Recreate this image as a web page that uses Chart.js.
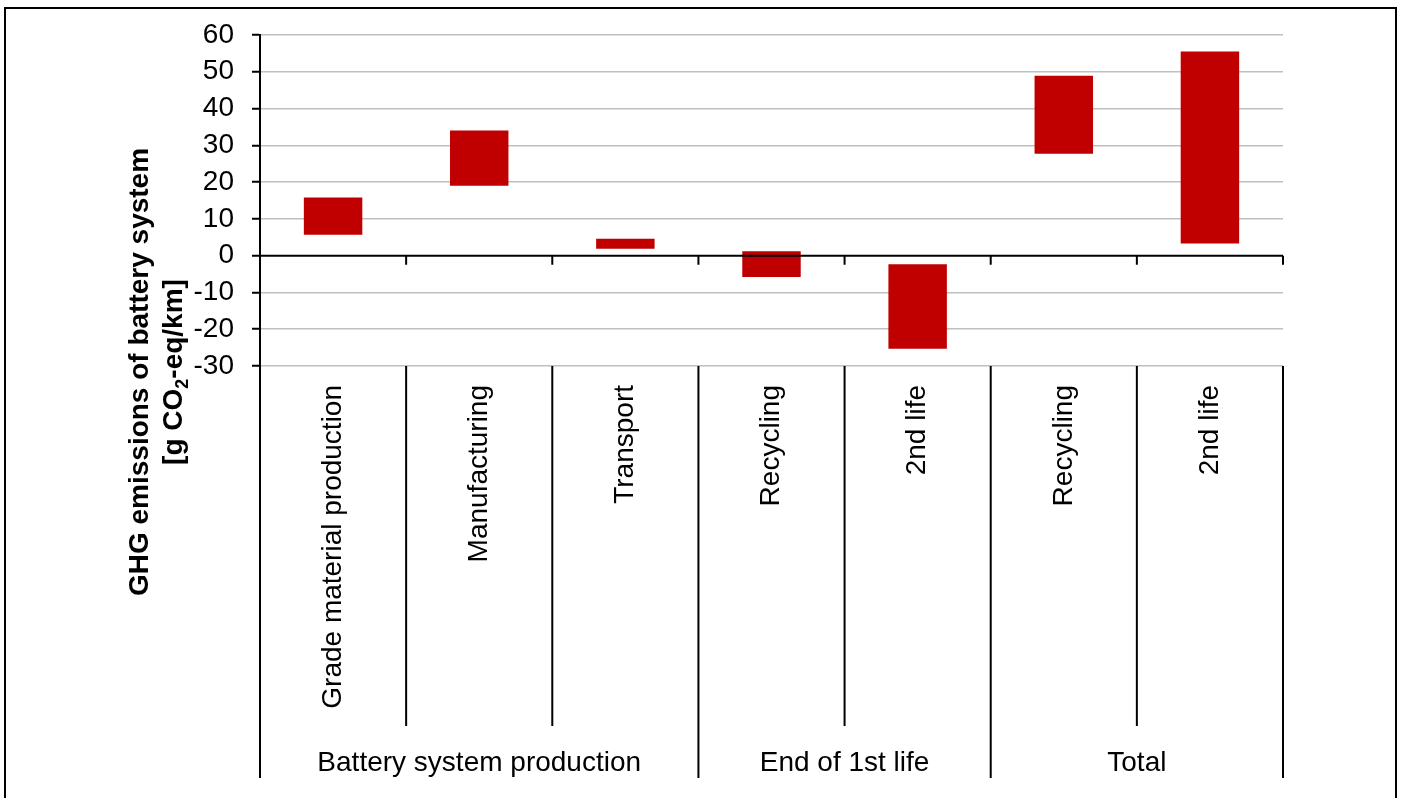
<!DOCTYPE html>
<html>
<head>
<meta charset="utf-8">
<title>GHG emissions of battery system</title>
<script src="https://cdn.jsdelivr.net/npm/chart.js@4.4.0/dist/chart.umd.min.js"></script>
<style>
  html, body { margin: 0; padding: 0; background: #fff; }
  canvas { display: block; }
</style>
</head>
<body>
<canvas id="ghgChart" width="1402" height="798"></canvas>
<script>
// Chart data
const categories = ['Grade material production', 'Manufacturing', 'Transport', 'Recycling', '2nd life', 'Recycling', '2nd life'];
const barLow  = [5.7, 19.0, 1.9, -5.8, -25.3, 27.7, 3.3];
const barHigh = [15.8, 34.0, 4.6, 1.2, -2.3, 48.9, 55.5];
const groupNames = ['Battery system production', 'End of 1st life', 'Total'];
const groupSizes = [3, 2, 2];
const yMin = -30;
const yMax = 60;
const yStep = 10;

const FONT = "'Liberation Sans', Arial, sans-serif";
const RED = '#c00000';

// separators, zero axis, group labels, frame and axis title
const decorPlugin = {
  id: 'decor',
  afterDatasetsDraw(chart) {
    const { ctx, chartArea, scales } = chart;
    const x = scales.x, y = scales.y;
    const y0 = y.getPixelForValue(0);

    // category boundaries
    const bounds = [chartArea.left];
    for (let i = 1; i < categories.length; i++) {
      bounds.push((x.getPixelForValue(i - 1) + x.getPixelForValue(i)) / 2);
    }
    bounds.push(chartArea.right);

    const major = [0];
    groupSizes.reduce((acc, n) => { major.push(acc + n); return acc + n; }, 0);

    ctx.save();
    ctx.strokeStyle = '#000';
    ctx.lineWidth = 2;

    // horizontal axis at zero
    ctx.beginPath();
    ctx.moveTo(chartArea.left, y0);
    ctx.lineTo(chartArea.right, y0);
    ctx.stroke();

    // ticks below zero line
    ctx.beginPath();
    for (let i = 1; i < bounds.length; i++) {
      ctx.moveTo(bounds[i], y0);
      ctx.lineTo(bounds[i], y0 + 9);
    }
    ctx.stroke();

    // separators under the plot
    ctx.beginPath();
    bounds.forEach((bx, i) => {
      const isMajor = major.includes(i);
      ctx.moveTo(bx, chartArea.bottom);
      ctx.lineTo(bx, isMajor ? 778 : 726);
    });
    ctx.stroke();

    // group labels
    ctx.fillStyle = '#000';
    ctx.font = '28px ' + FONT;
    ctx.textAlign = 'center';
    ctx.textBaseline = 'alphabetic';
    for (let g = 0; g < groupNames.length; g++) {
      const cx = (bounds[major[g]] + bounds[major[g + 1]]) / 2;
      ctx.fillText(groupNames[g], cx, 771);
    }
    ctx.restore();
  },
  afterDraw(chart) {
    const { ctx } = chart;
    ctx.save();
    // outer frame
    ctx.strokeStyle = '#000';
    ctx.lineWidth = 2;
    ctx.strokeRect(5, 8, 1391, 800);

    // y axis title, two rotated lines
    const cy = 372;
    ctx.fillStyle = '#000';
    ctx.textBaseline = 'alphabetic';
    ctx.translate(148, cy);
    ctx.rotate(-Math.PI / 2);
    ctx.font = 'bold 28px ' + FONT;
    ctx.textAlign = 'center';
    ctx.fillText('GHG emissions of battery system', 0, 0);

    // second line with subscript
    const partA = '[g CO', sub = '2', partB = '-eq/km]';
    ctx.font = 'bold 28px ' + FONT;
    const wA = ctx.measureText(partA).width;
    const wB = ctx.measureText(partB).width;
    ctx.font = 'bold 18px ' + FONT;
    const wS = ctx.measureText(sub).width;
    let sx = -(wA + wS + wB) / 2;
    ctx.textAlign = 'left';
    ctx.font = 'bold 28px ' + FONT;
    ctx.fillText(partA, sx, 34);
    sx += wA;
    ctx.font = 'bold 18px ' + FONT;
    ctx.fillText(sub, sx, 40);
    sx += wS;
    ctx.font = 'bold 28px ' + FONT;
    ctx.fillText(partB, sx, 34);
    ctx.restore();
  }
};

new Chart(document.getElementById('ghgChart'), {
  type: 'bar',
  data: {
    labels: categories,
    datasets: [{
      data: categories.map((c, i) => [barLow[i], barHigh[i]]),
      backgroundColor: RED,
      borderWidth: 0,
      barPercentage: 0.4,
      categoryPercentage: 1.0
    }]
  },
  options: {
    responsive: false,
    animation: false,
    layout: { padding: { left: 180, right: 119, top: 35, bottom: 0 } },
    plugins: {
      legend: { display: false },
      tooltip: { enabled: false }
    },
    scales: {
      x: {
        grid: { display: false },
        border: { display: false },
        ticks: {
          color: '#000',
          font: { family: FONT, size: 28 },
          minRotation: 90,
          maxRotation: 90,
          autoSkip: false,
          padding: 11
        },
        afterFit(scale) { scale.height = 798 - 366; }
      },
      y: {
        min: yMin,
        max: yMax,
        ticks: {
          stepSize: yStep,
          color: '#000',
          font: { family: FONT, size: 28 },
          padding: 18
        },
        grid: {
          color: (c) => (c.tick && c.tick.value === 0) ? 'rgba(0,0,0,0)' : '#bfbfbf',
          lineWidth: 1.5,
          tickColor: '#000',
          tickLength: 8,
          tickWidth: 2
        },
        border: { display: true, color: '#000', width: 2 },
        afterFit(scale) { scale.width = 80; }
      }
    }
  },
  plugins: [decorPlugin]
});
</script>
</body>
</html>
